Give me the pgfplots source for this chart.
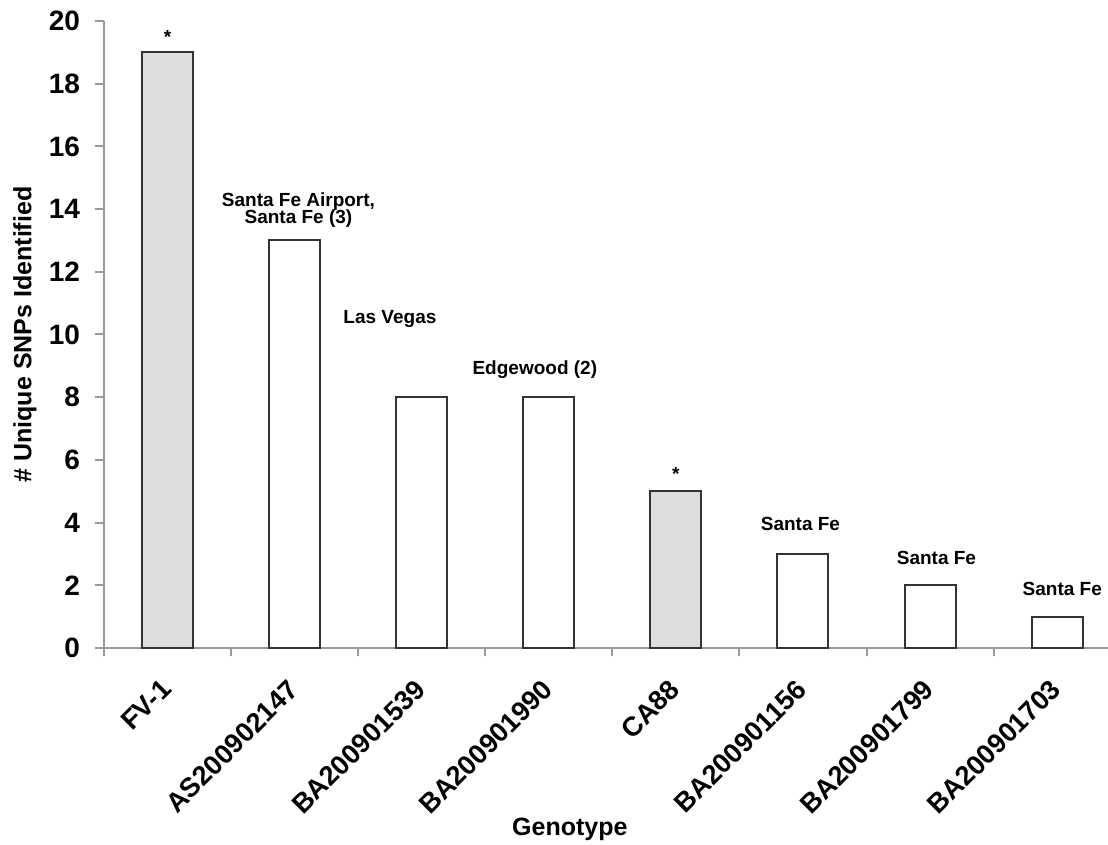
\documentclass[border=0pt]{standalone}
\usepackage{fontspec}
\setmainfont{Liberation Sans}
\usepackage{pgfplots}
\pgfplotsset{compat=1.18}
\definecolor{axisgray}{HTML}{9A9A9A}
\definecolor{barfill}{HTML}{DDDDDD}
\definecolor{baredge}{HTML}{333333}

\begin{document}
\begin{tikzpicture}
\begin{axis}[
    scale only axis,
    width=502pt, height=313.5pt,
    ymin=0, ymax=20, ytick={0,2,...,20},
    xmin=-0.5, xmax=7.4,
    axis lines=left,
    axis line style={-, axisgray, line width=1pt},
    tick align=outside,
    major tick length=4.5pt,
    minor tick length=4pt,
    tick style={axisgray, line width=1pt},
    xtick={0,...,7},
    xticklabels={FV-1,AS200902147,BA200901539,BA200901990,CA88,BA200901156,BA200901799,BA200901703},
    major x tick style={draw=none},
    minor xtick={-0.5,0.5,...,6.5},
    xticklabel style={font=\fontsize{13.6}{15}\selectfont\bfseries,
        xshift=-4pt, yshift=-5.5pt, rotate=45, anchor=north east},
    yticklabel style={font=\fontsize{14}{16}\selectfont\bfseries, xshift=-4pt},
    /pgf/number format/assume math mode=true,
    ylabel={\# Unique SNPs Identified},
    xlabel={Genotype},
    label style={font=\fontsize{12.5}{14}\selectfont\bfseries},
    ylabel style={at={(axis description cs:-0.0787,0.5)}, anchor=center},
    xlabel style={at={(axis description cs:0.464,0)}, anchor=center, yshift=-90.5pt},
    ybar, bar width=25.5pt, bar shift=0pt,
    clip=false,
]

% reference strains (grey)
\addplot[fill=barfill, draw=baredge, line width=1pt]
coordinates {(0,19) (4,5)};

% environmental isolates (white)
\addplot[fill=white, draw=baredge, line width=1pt]
coordinates {(1,13) (2,8) (3,8) (5,3) (6,2) (7,1)};

% location notes
\begin{scope}[every node/.style={font=\fontsize{9.5}{10}\selectfont\bfseries, align=center}]
\node at (axis cs:0,19.5) {*};
\node at (axis cs:4,5.55) {*};
\node at (axis cs:1.03,13.97) {Santa Fe Airport,\\[-1.5pt]Santa Fe (3)};
\node at (axis cs:1.75,10.5) {Las Vegas};
\node at (axis cs:2.89,8.87) {Edgewood (2)};
\node at (axis cs:4.98,3.95) {Santa Fe};
\node at (axis cs:6.05,2.87) {Santa Fe};
\node at (axis cs:7.04,1.88) {Santa Fe};
\end{scope}

\end{axis}
\pgfresetboundingbox
\path[use as bounding box] (-52pt,-98.5pt) rectangle (502pt,324pt);
\end{tikzpicture}
\end{document}
